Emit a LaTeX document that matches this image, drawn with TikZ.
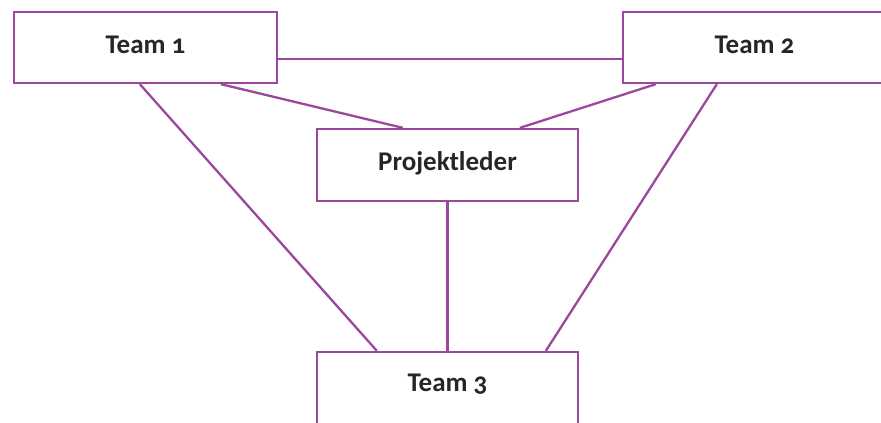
\documentclass[tikz,border=0pt]{standalone}
\usepackage{fontspec}
\setmainfont{Carlito}[Numbers=OldStyle]
\definecolor{orgline}{HTML}{9B479E}
\definecolor{orgtext}{HTML}{262626}
\tikzset{
  orgbox/.style={draw=orgline, line width=2.3pt, fill=white, inner sep=0pt,
    minimum height=71pt, text height=18pt, text depth=7pt,
    font=\fontsize{27}{30}\selectfont\bfseries, text=orgtext},
  link/.style={draw=orgline, line width=2.3pt}
}
\begin{document}
\begin{tikzpicture}[x=1pt,y=-1pt]
  \useasboundingbox (0,0) rectangle (881,423);
  \clip (0,0) rectangle (881,423);
  % boxes
  \node[orgbox, minimum width=263pt] (t1) at (145.5,47.5) {Team 1};
  \node[orgbox, minimum width=263pt] (t2) at (754.5,47.5) {Team 2};
  \node[orgbox, minimum width=261pt, minimum height=72pt] (pl) at (447.5,165) {Projektleder};
  \node[orgbox, minimum width=261pt, minimum height=80pt, text depth=20pt] (t3) at (447.5,392) {Team 3};
  % connectors
  \draw[link] ([yshift=-11.5pt]t1.east) -- ([yshift=-11.5pt]t2.west);
  \draw[link] ([xshift=208pt]t1.south west) -- ([xshift=87pt]pl.north west);
  \draw[link] ([xshift=34pt]t2.south west) -- ([xshift=204pt]pl.north west);
  \draw[link] ([xshift=127pt]t1.south west) -- ([xshift=61pt]t3.north west);
  \draw[link] ([xshift=95pt]t2.south west) -- ([xshift=230pt]t3.north west);
  \draw[link] (pl.south) -- (t3.north);
\end{tikzpicture}
\end{document}
